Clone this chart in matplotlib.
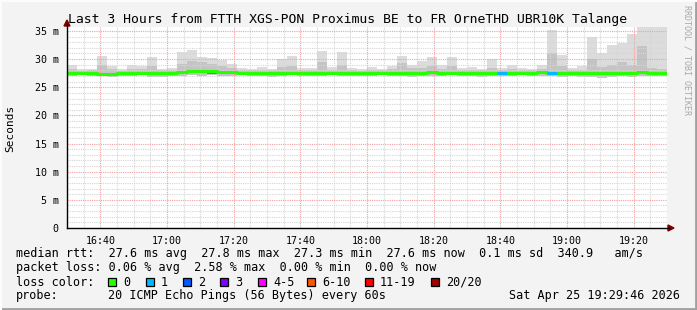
import matplotlib
matplotlib.use('Agg')
import matplotlib.pyplot as plt
from matplotlib.patches import Polygon, Rectangle
from matplotlib.lines import Line2D

# minutes since 16:30, one bin every 3 minutes
bin_start = list(range(0, 180, 3))

smoke_max = [29.0, 28.2, 28.3, 30.5, 28.7, 28.2, 29.0, 28.8, 30.4, 28.3,
             28.4, 31.3, 31.6, 30.4, 30.2, 29.8, 29.2, 28.5, 28.3, 28.6,
             28.3, 30.0, 30.6, 28.4, 28.5, 31.5, 28.6, 31.2, 28.4, 28.2,
             28.6, 28.3, 28.8, 30.5, 29.0, 29.6, 30.4, 29.0, 30.3, 28.5,
             28.6, 28.3, 30.0, 28.4, 29.0, 28.5, 28.3, 29.0, 35.2, 30.8,
             28.5, 28.7, 33.9, 31.0, 32.5, 32.8, 34.5, 36.0, 36.0, 36.0]
smoke_mid = [28.3, 27.9, 28.0, 29.0, 28.2, 27.9, 28.3, 28.2, 28.8, 28.0,
             28.1, 29.2, 29.6, 29.4, 29.2, 28.8, 28.4, 28.0, 28.0, 28.1,
             28.0, 28.6, 28.8, 28.0, 28.0, 29.5, 28.1, 29.0, 28.0, 27.9,
             28.1, 28.0, 28.2, 29.3, 28.4, 28.5, 28.8, 28.3, 28.7, 28.0,
             28.1, 28.0, 28.5, 28.0, 28.3, 28.0, 28.0, 28.2, 31.0, 28.8,
             28.0, 28.1, 30.0, 28.6, 29.0, 29.5, 29.0, 32.3, 28.5, 28.3]
smoke_q25 = [27.3, 27.3, 27.2, 27.1, 27.0, 27.3, 27.3, 27.2, 27.2, 27.3,
             27.3, 27.4, 27.5, 27.5, 27.4, 27.4, 27.3, 27.3, 27.3, 27.3,
             27.2, 27.3, 27.3, 27.3, 27.2, 27.3, 27.3, 27.3, 27.3, 27.3,
             27.3, 27.2, 27.3, 27.3, 27.2, 27.3, 27.3, 27.3, 27.3, 27.3,
             27.3, 27.2, 27.3, 27.3, 27.3, 27.3, 27.3, 27.3, 27.3, 27.2,
             27.3, 27.2, 27.2, 27.1, 27.2, 27.3, 27.2, 27.3, 27.3, 27.3]
smoke_min = [27.0, 27.1, 27.0, 27.0, 26.8, 27.0, 27.0, 27.1, 26.8, 26.9,
             27.0, 27.0, 27.1, 27.0, 27.1, 27.0, 27.0, 27.1, 27.0, 27.0,
             26.9, 27.0, 27.1, 27.0, 27.0, 27.0, 27.1, 27.0, 27.0, 27.0,
             27.0, 27.1, 27.0, 27.0, 26.9, 27.0, 27.0, 27.0, 27.1, 27.0,
             27.0, 26.9, 27.0, 27.0, 27.0, 27.1, 27.0, 27.0, 27.0, 26.9,
             27.0, 26.8, 26.9, 26.7, 26.8, 27.0, 26.9, 27.0, 27.0, 27.0]
median = [27.6, 27.6, 27.6, 27.4, 27.3, 27.6, 27.6, 27.5, 27.6, 27.6,
          27.6, 27.7, 27.8, 27.8, 27.8, 27.7, 27.7, 27.6, 27.6, 27.6,
          27.5, 27.6, 27.6, 27.6, 27.6, 27.6, 27.6, 27.6, 27.6, 27.6,
          27.6, 27.5, 27.6, 27.6, 27.5, 27.6, 27.7, 27.6, 27.6, 27.6,
          27.6, 27.6, 27.6, 27.6, 27.6, 27.6, 27.6, 27.7, 27.6, 27.6,
          27.6, 27.6, 27.6, 27.5, 27.6, 27.6, 27.6, 27.7, 27.6, 27.6]
loss = [0, 0, 0, 0, 0, 0, 0, 0, 0, 0,
        0, 0, 0, 0, 0, 0, 0, 0, 0, 0,
        0, 0, 0, 0, 0, 0, 0, 0, 0, 0,
        0, 0, 0, 0, 0, 0, 0, 0, 0, 0,
        0, 0, 0, 1, 0, 0, 0, 0, 1, 0,
        0, 0, 0, 0, 0, 0, 0, 0, 0, 0]

time_ticks = [10, 30, 50, 70, 90, 110, 130, 150, 170]
time_labels = ['16:40', '17:00', '17:20', '17:40', '18:00', '18:20', '18:40', '19:00', '19:20']
y_ticks = [0, 5, 10, 15, 20, 25, 30, 35]
y_labels = ['0', '5 m', '10 m', '15 m', '20 m', '25 m', '30 m', '35 m']

loss_labels = ['0', '1', '2', '3', '4-5', '6-10', '11-19', '20/20']
loss_colors = ['#26ff00', '#00b8ff', '#0059ff', '#7e00ff', '#ff00ff', '#ff5500', '#ff0000', '#a10000']

W, H = 697, 310
MONO = 'DejaVu Sans Mono'
plt.rcParams['font.family'] = MONO


def fx(x):
    return x / W


def fy(y):
    return 1 - y / H


fig = plt.figure(figsize=(W / 100, H / 100), dpi=100)
fig.patch.set_facecolor('#f3f3f3')

# plot area: x 67..667 px, y 27..228 px
ax = fig.add_axes([fx(67), fy(228), (667 - 67) / W, (228 - 27) / H])
ax.set_facecolor('white')
ax.set_xlim(0, 180)
ax.set_ylim(0, 35.7)
for s in ax.spines.values():
    s.set_visible(False)

# smoke
hi = [a - b for a, b in zip(smoke_max, smoke_min)]
ax.bar(bin_start, hi, width=3, bottom=smoke_min, align='edge', color='#dcdcdc', linewidth=0, zorder=1)
mid = [a - b for a, b in zip(smoke_mid, smoke_min)]
ax.bar(bin_start, mid, width=3, bottom=smoke_min, align='edge', color='#c4c4c4', linewidth=0, zorder=1)
dark = [a - b for a, b in zip(median, smoke_q25)]
ax.bar(bin_start, dark, width=3, bottom=smoke_q25, align='edge', color='#7c7c7c', linewidth=0, zorder=1)

# grid on top of smoke
for m in range(0, 181, 5):
    if m % 20 != 10:
        ax.axvline(m, color='#d6d6d6', lw=0.8, ls=(0, (1, 1)), zorder=2)
for v in range(1, 36):
    if v % 5:
        ax.axhline(v, color='#d6d6d6', lw=0.8, ls=(0, (1, 1)), zorder=2)
for m in time_ticks:
    ax.axvline(m, color='#f2a0a0', lw=0.8, ls=(0, (1, 1)), zorder=2)
for v in y_ticks[1:]:
    ax.axhline(v, color='#f2a0a0', lw=0.8, ls=(0, (1, 1)), zorder=2)

# median line coloured by loss
edges = bin_start + [180]
ax.step(edges, median + [median[-1]], where='post', color=loss_colors[0], lw=2.2, zorder=3)
for x0, m, l in zip(bin_start, median, loss):
    if l:
        ax.hlines(m, x0, x0 + 3, color=loss_colors[l], lw=2.2, zorder=4)

ax.set_xticks(time_ticks)
ax.set_xticklabels(time_labels, fontsize=7.2)
ax.set_yticks(y_ticks)
ax.set_yticklabels(y_labels, fontsize=7.2)
ax.tick_params(axis='x', length=0, pad=6)
ax.tick_params(axis='y', length=0, pad=6)

# axes with arrows
ac = '#800000'
fig.add_artist(Line2D([fx(67), fx(67)], [fy(228), fy(24)], color='black', lw=1))
fig.add_artist(Line2D([fx(67), fx(669)], [fy(228), fy(228)], color='black', lw=1))
fig.add_artist(Polygon([(fx(64), fy(26)), (fx(70), fy(26)), (fx(67), fy(20))], closed=True, color=ac))
fig.add_artist(Polygon([(fx(668), fy(225)), (fx(668), fy(231)), (fx(674), fy(228))], closed=True, color=ac))

# title and labels
fig.text(fx(347.5), fy(19), 'Last 3 Hours from FTTH XGS-PON Proximus BE to FR OrneTHD UBR10K Talange',
         ha='center', va='center', fontsize=9.45)
fig.text(fx(10), fy(128), 'Seconds', rotation=90, ha='center', va='center', fontsize=8)
fig.text(fx(687), fy(5), 'RRDTOOL / TOBI OETIKER', rotation=270, ha='center', va='top',
         fontsize=6, color='#a8a8a8')

# legend
fs = 8.5
fig.text(fx(16), fy(254), 'median rtt:  27.6 ms avg  27.8 ms max  27.3 ms min  27.6 ms now  0.1 ms sd  340.9   am/s',
         ha='left', va='center', fontsize=fs)
fig.text(fx(16), fy(268), 'packet loss: 0.06 % avg  2.58 % max  0.00 % min  0.00 % now',
         ha='left', va='center', fontsize=fs)
fig.text(fx(16), fy(282), 'loss color:', ha='left', va='center', fontsize=fs)
box_x = [108, 146, 183, 220, 258, 307, 365, 431]
for bx, lab, col in zip(box_x, loss_labels, loss_colors):
    fig.add_artist(Rectangle((fx(bx), fy(286)), 8 / W, 8 / H, facecolor=col, edgecolor='black', lw=0.9))
    fig.text(fx(bx + 15), fy(282), lab, ha='left', va='center', fontsize=fs)
fig.text(fx(16), fy(296), 'probe:', ha='left', va='center', fontsize=fs)
fig.text(fx(108), fy(296), '20 ICMP Echo Pings (56 Bytes) every 60s', ha='left', va='center', fontsize=fs)
fig.text(fx(680), fy(296), 'Sat Apr 25 19:29:46 2026', ha='right', va='center', fontsize=fs)

# 3d frame
fig.add_artist(Line2D([0, 1], [fy(309), fy(309)], color='#a0a0a0', lw=2))
fig.add_artist(Line2D([fx(696), fx(696)], [0, 1], color='#a0a0a0', lw=2))
fig.add_artist(Line2D([0, 1], [fy(0.5), fy(0.5)], color='#fcfcfc', lw=1.5))
fig.add_artist(Line2D([fx(0.5), fx(0.5)], [0, 1], color='#fcfcfc', lw=1.5))

fig.savefig('out.png', dpi=100, facecolor=fig.get_facecolor())
